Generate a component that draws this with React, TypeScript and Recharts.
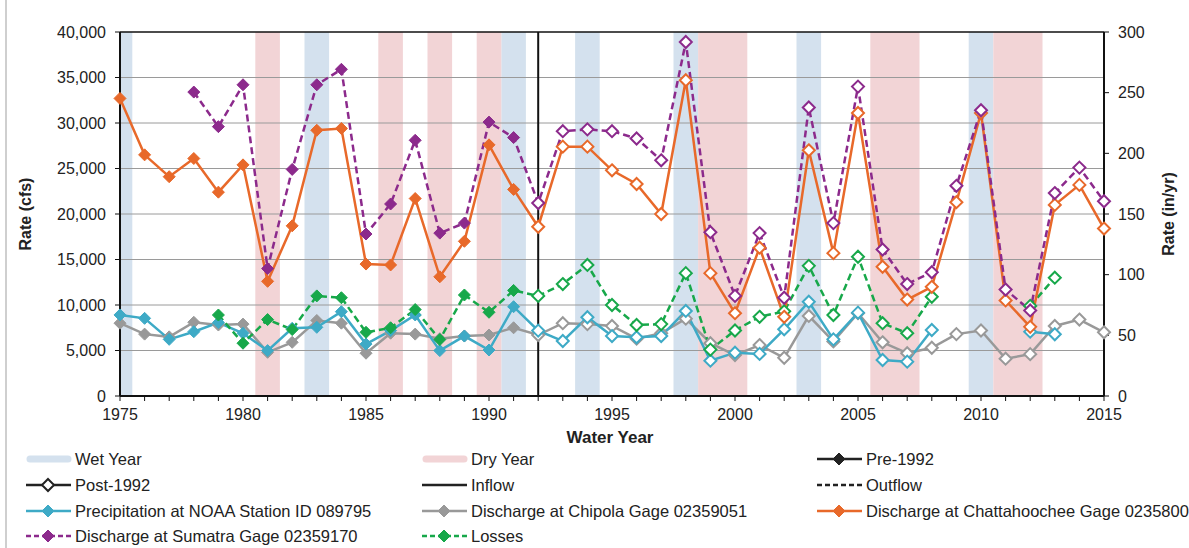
import React from "react";
import { ComposedChart, Line, XAxis, YAxis, ReferenceArea, ReferenceLine } from "recharts";

// water years 1975-2015
const years = [
  1975, 1976, 1977, 1978, 1979, 1980, 1981, 1982, 1983, 1984,
  1985, 1986, 1987, 1988, 1989, 1990, 1991, 1992, 1993, 1994,
  1995, 1996, 1997, 1998, 1999, 2000, 2001, 2002, 2003, 2004,
  2005, 2006, 2007, 2008, 2009, 2010, 2011, 2012, 2013, 2014,
  2015,
];

// cfs
const chattahoochee = [
  32700, 26500, 24100, 26100, 22400, 25400, 12600, 18700, 29200, 29400,
  14500, 14400, 21700, 13100, 17000, 27600, 22700, 18600, 27400, 27400,
  24800, 23300, 20000, 34700, 13500, 9100, 16300, 8700, 27000, 15700,
  31100, 14200, 10600, 12000, 21300, 31100, 10500, 7600, 21000, 23200,
  18400,
];
const sumatra = [
  null, null, null, 33400, 29600, 34200, 14000, 24900, 34200, 35900,
  17800, 21100, 28100, 17900, 19000, 30100, 28400, 21200, 29100, 29300,
  29100, 28300, 25900, 38900, 18000, 11000, 17900, 10800, 31700, 19000,
  34000, 16100, 12300, 13600, 23100, 31400, 11700, 9400, 22300, 25100,
  21400,
];
const losses = [
  null, null, null, null, 8900, 5800, 8400, 7300, 11000, 10800,
  7000, 7500, 9500, 6200, 11100, 9200, 11600, 11000, 12300, 14400,
  10000, 7800, 7900, 13500, 5100, 7200, 8700, 9300, 14300, 8900,
  15300, 8000, 6900, 10900, null, null, null, 9900, 13000, null,
  null,
];
const chipola = [
  8000, 6800, 6500, 8100, 7800, 7900, 4800, 5900, 8300, 8000,
  4700, 6900, 6800, 6300, 6600, 6700, 7500, 6700, 8000, 7900,
  7700, 6300, 6900, 8500, 5800, 4500, 5600, 4200, 8800, 6000,
  9100, 5900, 4700, 5300, 6800, 7200, 4100, 4600, 7700, 8400,
  7000,
];
// in/yr (right axis)
const precipitation = [
  66.8, 64.0, 46.7, 53.0, 60.5, 51.7, 37.4, 55.8, 56.6, 69.5,
  42.8, 53.9, 66.8, 37.4, 49.4, 37.9, 73.6, 53.9, 45.3, 64.9,
  49.4, 48.4, 49.4, 70.1, 29.1, 35.7, 34.7, 55.0, 77.7, 46.7,
  68.7, 29.7, 28.3, 54.4, null, null, null, 53.0, 50.9, null,
  null,
];

const wetYears = [[1975, 1975.5], [1982.5, 1983.5], [1990.5, 1991.5], [1993.5, 1994.5], [1997.5, 1998.5], [2002.5, 2003.5], [2009.5, 2010.5]];
const dryYears = [[1980.5, 1981.5], [1985.5, 1986.5], [1987.5, 1988.5], [1989.5, 1990.5], [1998.5, 2000.5], [2005.5, 2007.5], [2010.5, 2012.5]];

const leftTicks = [0, 5000, 10000, 15000, 20000, 25000, 30000, 35000, 40000];
const rightTicks = [0, 50, 100, 150, 200, 250, 300];

const data = years.map((year, i) => ({
  year,
  chattahoochee: chattahoochee[i],
  sumatra: sumatra[i],
  losses: losses[i],
  chipola: chipola[i],
  precipitation: precipitation[i],
}));

const FONT = '"Liberation Sans", Arial, sans-serif';
const ORANGE = "#e8692a";
const PURPLE = "#8c2a8c";
const GREEN = "#17a84a";
const CYAN = "#3eaac6";
const GRAY = "#999999";
const WET = "#d4e1ee";
const DRY = "#f2d4d6";

const makeDot = (name: string, color: string) => (props: any) => {
  const { cx, cy, value, payload, index } = props;
  if (cx == null || cy == null || value == null) return <g key={`${name}-${index}`} />;
  const post = payload.year >= 1992;
  const r = 6;
  return (
    <polygon
      key={`${name}-${index}`}
      points={`${cx},${cy - r} ${cx + r},${cy} ${cx},${cy + r} ${cx - r},${cy}`}
      fill={post ? "#fff" : color}
      stroke={color}
      strokeWidth={post ? 2 : 1}
    />
  );
};

const YearTick = (props: any) => {
  const { x, y, payload } = props;
  if (payload.value % 5 !== 0) return <g />;
  return (
    <text x={x} y={y} dy={17} textAnchor="middle" fontFamily={FONT} fontSize={16} fill="#222">
      {payload.value}
    </text>
  );
};

const Sample = ({ kind, color, dashed, post }: any) => (
  <svg width={48} height={16} style={{ position: "absolute", left: 0, top: 2 }}>
    {kind === "band" ? (
      <line x1={5} y1={8} x2={43} y2={8} stroke={color} strokeWidth={7} strokeLinecap="round" />
    ) : (
      <line x1={1} y1={8} x2={46} y2={8} stroke={color} strokeWidth={2.5} strokeDasharray={dashed ? "5 3" : undefined} />
    )}
    {kind === "marker" && (
      <polygon points="23,2 29,8 23,14 17,8" fill={post ? "#fff" : color} stroke={color} strokeWidth={post ? 2 : 1} />
    )}
  </svg>
);

const legendRows = [
  [
    { label: "Wet Year", kind: "band", color: WET },
    { label: "Dry Year", kind: "band", color: DRY },
    { label: "Pre-1992", kind: "marker", color: "#222" },
  ],
  [
    { label: "Post-1992", kind: "marker", color: "#222", post: true },
    { label: "Inflow", kind: "line", color: "#222" },
    { label: "Outflow", kind: "line", color: "#222", dashed: true },
  ],
  [
    { label: "Precipitation at NOAA Station ID 089795", kind: "marker", color: CYAN },
    { label: "Discharge at Chipola Gage 02359051", kind: "marker", color: GRAY },
    { label: "Discharge at Chattahoochee Gage 02358000", kind: "marker", color: ORANGE },
  ],
  [
    { label: "Discharge at Sumatra Gage 02359170", kind: "marker", color: PURPLE, dashed: true },
    { label: "Losses", kind: "marker", color: GREEN, dashed: true },
  ],
];
const legendCols = [25, 421, 816];
const legendRowY = [459, 485, 511, 536];

export default function App() {
  return (
    <div style={{ position: "absolute", left: 0, top: 0, width: 1189, height: 548, background: "#fff", overflow: "hidden" }}>
      <div style={{ position: "absolute", left: 5, top: 0, width: 2, height: 548, background: "#cfcfcf" }} />
      <ComposedChart width={1189} height={450} data={data} margin={{ top: 32, right: 0, bottom: 0, left: 0 }}>
        <XAxis
          dataKey="year"
          type="number"
          domain={[1975, 2015]}
          ticks={years}
          interval={0}
          tick={<YearTick />}
          tickSize={5}
          height={54}
          axisLine={{ stroke: "#111", strokeWidth: 2 }}
          tickLine={{ stroke: "#111" }}
          label={{
            content: () => (
              <text x={610} y={443} textAnchor="middle" fontFamily={FONT} fontSize={17} fontWeight="bold" fill="#222">
                Water Year
              </text>
            ),
          }}
        />
        <YAxis
          yAxisId="left"
          domain={[0, 40000]}
          ticks={leftTicks}
          width={120}
          tickSize={5}
          tickMargin={9}
          tickFormatter={(v: number) => v.toLocaleString("en-US")}
          tick={{ fontFamily: FONT, fontSize: 16, fill: "#222" }}
          axisLine={{ stroke: "#111", strokeWidth: 2 }}
          tickLine={{ stroke: "#111" }}
          label={{
            content: () => (
              <text x={31} y={214} transform="rotate(-90, 31, 214)" textAnchor="middle" fontFamily={FONT} fontSize={16} fontWeight="bold" fill="#222">
                Rate (cfs)
              </text>
            ),
          }}
        />
        <YAxis
          yAxisId="right"
          orientation="right"
          domain={[0, 300]}
          ticks={rightTicks}
          width={85}
          tickSize={5}
          tickMargin={9}
          tick={{ fontFamily: FONT, fontSize: 16, fill: "#222" }}
          axisLine={{ stroke: "#111", strokeWidth: 2 }}
          tickLine={{ stroke: "#111" }}
          label={{
            content: () => (
              <text x={1174} y={214} transform="rotate(-90, 1174, 214)" textAnchor="middle" fontFamily={FONT} fontSize={16} fontWeight="bold" fill="#222">
                Rate (in/yr)
              </text>
            ),
          }}
        />
        {wetYears.map(([a, b], i) => (
          <ReferenceArea key={`w${i}`} yAxisId="left" x1={a} x2={b} y1={0} y2={40000} fill={WET} fillOpacity={1} stroke="none" />
        ))}
        {dryYears.map(([a, b], i) => (
          <ReferenceArea key={`d${i}`} yAxisId="left" x1={a} x2={b} y1={0} y2={40000} fill={DRY} fillOpacity={1} stroke="none" />
        ))}
        {leftTicks.slice(1, -1).map((t) => (
          <ReferenceLine key={`g${t}`} yAxisId="left" y={t} stroke="#9a9a9a" strokeWidth={1} />
        ))}
        <ReferenceLine yAxisId="left" y={40000} stroke="#111" strokeWidth={1.5} />
        <ReferenceLine yAxisId="left" x={1992} stroke="#111" strokeWidth={2} />
        <Line yAxisId="left" dataKey="chipola" stroke={GRAY} strokeWidth={2.5} dot={makeDot("chipola", GRAY)} activeDot={false} isAnimationActive={false} />
        <Line yAxisId="right" dataKey="precipitation" stroke={CYAN} strokeWidth={2.5} dot={makeDot("precip", CYAN)} activeDot={false} isAnimationActive={false} />
        <Line yAxisId="left" dataKey="losses" stroke={GREEN} strokeWidth={2.5} strokeDasharray="7 4" dot={makeDot("losses", GREEN)} activeDot={false} isAnimationActive={false} />
        <Line yAxisId="left" dataKey="chattahoochee" stroke={ORANGE} strokeWidth={2.5} dot={makeDot("chatt", ORANGE)} activeDot={false} isAnimationActive={false} />
        <Line yAxisId="left" dataKey="sumatra" stroke={PURPLE} strokeWidth={2.5} strokeDasharray="7 4" dot={makeDot("sumatra", PURPLE)} activeDot={false} isAnimationActive={false} />
      </ComposedChart>
      {legendRows.map((row, r) =>
        row.map((item, c) => (
          <div
            key={`${r}-${c}`}
            style={{ position: "absolute", left: legendCols[c], top: legendRowY[r] - 10, height: 20, whiteSpace: "nowrap" }}
          >
            <Sample {...item} />
            <span style={{ position: "absolute", left: 50, top: 0, fontFamily: FONT, fontSize: 16.5, color: "#222", lineHeight: "20px" }}>
              {item.label}
            </span>
          </div>
        ))
      )}
    </div>
  );
}
